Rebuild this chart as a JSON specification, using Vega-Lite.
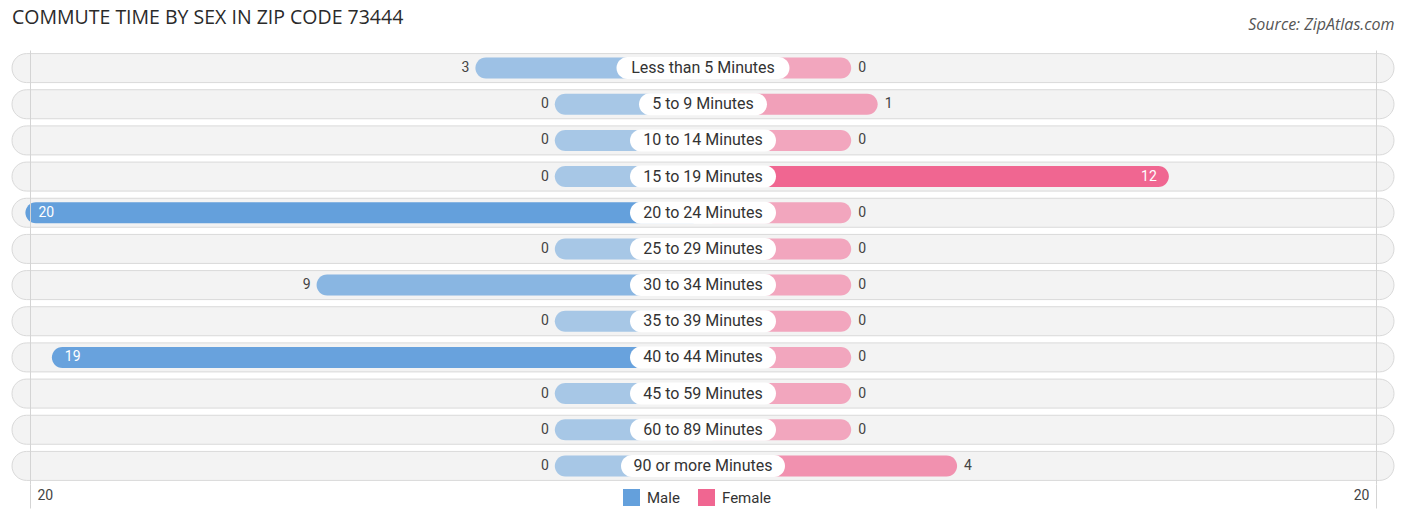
{
  "$schema": "https://vega.github.io/schema/vega-lite/v6.json",
  "width": 1382,
  "height": 434,
  "autosize": "none",
  "padding": {"left": 12, "top": 50, "right": 12, "bottom": 39},
  "background": "white",
  "title": {
    "text": "COMMUTE TIME BY SEX IN ZIP CODE 73444",
    "anchor": "start",
    "frame": "group",
    "font": "Open Sans",
    "fontSize": 19.5,
    "fontWeight": "normal",
    "color": "#2a2a2a",
    "baseline": "alphabetic",
    "offset": -27
  },
  "data": {
    "values": [
      {"cat": "Less than 5 Minutes", "male": 3, "female": 0},
      {"cat": "5 to 9 Minutes", "male": 0, "female": 1},
      {"cat": "10 to 14 Minutes", "male": 0, "female": 0},
      {"cat": "15 to 19 Minutes", "male": 0, "female": 12},
      {"cat": "20 to 24 Minutes", "male": 20, "female": 0},
      {"cat": "25 to 29 Minutes", "male": 0, "female": 0},
      {"cat": "30 to 34 Minutes", "male": 9, "female": 0},
      {"cat": "35 to 39 Minutes", "male": 0, "female": 0},
      {"cat": "40 to 44 Minutes", "male": 19, "female": 0},
      {"cat": "45 to 59 Minutes", "male": 0, "female": 0},
      {"cat": "60 to 89 Minutes", "male": 0, "female": 0},
      {"cat": "90 or more Minutes", "male": 0, "female": 4}
    ]
  },
  "encoding": {
    "y": {
      "field": "cat",
      "type": "nominal",
      "axis": null,
      "sort": null,
      "scale": {
        "domain": ["Less than 5 Minutes", "5 to 9 Minutes", "10 to 14 Minutes", "15 to 19 Minutes", "20 to 24 Minutes", "25 to 29 Minutes", "30 to 34 Minutes", "35 to 39 Minutes", "40 to 44 Minutes", "45 to 59 Minutes", "60 to 89 Minutes", "90 or more Minutes"],
        "paddingInner": 0,
        "paddingOuter": 0
      }
    }
  },
  "layer": [
    {
      "mark": {"type": "bar", "height": 29, "cornerRadius": 14.5, "fill": "#f3f3f3", "stroke": "#d9d9d9", "strokeWidth": 1},
      "encoding": {
        "x": {
          "datum": -20.535,
          "type": "quantitative",
          "scale": {"domain": [-20.535, 20.535], "nice": false, "zero": false},
          "axis": {
            "orient": "bottom",
            "values": [-20, 20],
            "title": null,
            "domain": false,
            "grid": true,
            "gridColor": "#d4d4d4",
            "ticks": true,
            "tickSize": 24,
            "tickColor": "#d4d4d4",
            "labelExpr": "abs(datum.value)",
            "labelFlush": false,
            "labelAlign": {"condition": {"test": "datum.value < 0", "value": "left"}, "value": "right"},
            "labelOffset": {"condition": {"test": "datum.value < 0", "value": 7}, "value": -7},
            "labelPadding": -20,
            "labelFontSize": 14,
            "labelColor": "#444",
            "zindex": 1
          }
        },
        "x2": {"datum": 20.535}
      }
    },
    {
      "layer": [
        {
          "mark": {"type": "bar", "height": 21, "cornerRadius": 10.5},
          "encoding": {
            "x": {
              "field": "male",
              "type": "quantitative",
              "scale": {"domain": [-31.704, 20.506], "reverse": true, "nice": false, "zero": false},
              "axis": null
            },
            "x2": {"datum": -5.599},
            "color": {
              "datum": "Male",
              "scale": {"domain": ["Male", "Female"], "range": ["#64a0dc", "#f06691"]},
              "legend": {
                "orient": "none",
                "legendX": 611,
                "legendY": 439,
                "direction": "horizontal",
                "title": null,
                "symbolType": "square",
                "symbolSize": 289,
                "symbolOpacity": 1,
                "symbolStrokeWidth": 0,
                "labelFontSize": 15,
                "labelColor": "#333",
                "labelOffset": 7,
                "columnPadding": 18
              }
            },
            "opacity": {
              "field": "male",
              "type": "quantitative",
              "scale": {"domain": [0, 20], "range": [0.53, 1]},
              "legend": null
            }
          }
        },
        {
          "transform": [{"filter": "datum.male < 10"}],
          "mark": {"type": "text", "fontSize": 14, "color": "#444", "align": "right", "baseline": "middle", "dx": -6},
          "encoding": {
            "x": {"field": "male", "type": "quantitative"},
            "text": {"field": "male"}
          }
        },
        {
          "transform": [{"filter": "datum.male >= 10"}],
          "mark": {"type": "text", "fontSize": 14, "color": "white", "align": "left", "baseline": "middle", "dx": 13},
          "encoding": {
            "x": {"field": "male", "type": "quantitative"},
            "text": {"field": "male"}
          }
        }
      ]
    },
    {
      "layer": [
        {
          "mark": {"type": "bar", "height": 21, "cornerRadius": 10.5},
          "encoding": {
            "x": {
              "field": "female",
              "type": "quantitative",
              "scale": {"domain": [-31.704, 20.506], "nice": false, "zero": false},
              "axis": {
                "orient": "top",
                "title": "Source: ZipAtlas.com",
                "titleAnchor": "end",
                "titleFont": "Open Sans",
                "titleFontStyle": "italic",
                "titleFontWeight": "normal",
                "titleFontSize": 16,
                "titleColor": "#555",
                "titlePadding": 18,
                "labels": false,
                "ticks": false,
                "domain": false,
                "grid": false
              }
            },
            "x2": {"datum": -5.599},
            "color": {"datum": "Female"},
            "opacity": {
              "field": "female",
              "type": "quantitative",
              "scale": {"domain": [0, 12], "range": [0.55, 1]},
              "legend": null
            }
          }
        },
        {
          "transform": [{"filter": "datum.female < 10"}],
          "mark": {"type": "text", "fontSize": 14, "color": "#444", "align": "left", "baseline": "middle", "dx": 7},
          "encoding": {
            "x": {"field": "female", "type": "quantitative"},
            "text": {"field": "female"}
          }
        },
        {
          "transform": [{"filter": "datum.female >= 10"}],
          "mark": {"type": "text", "fontSize": 14, "color": "white", "align": "right", "baseline": "middle", "dx": -12},
          "encoding": {
            "x": {"field": "female", "type": "quantitative"},
            "text": {"field": "female"}
          }
        }
      ]
    },
    {
      "layer": [
        {
          "transform": [
            {"calculate": "-(4.5 * length(datum.cat) + 1) / 33.65", "as": "lo"},
            {"calculate": "(4.5 * length(datum.cat) + 1) / 33.65", "as": "hi"}
          ],
          "mark": {"type": "bar", "height": 22, "cornerRadius": 11, "fill": "white"},
          "encoding": {
            "x": {
              "field": "lo",
              "type": "quantitative",
              "scale": {"domain": [-20.535, 20.535], "nice": false, "zero": false},
              "axis": null
            },
            "x2": {"field": "hi"}
          }
        },
        {
          "mark": {"type": "text", "fontSize": 16, "color": "#333", "align": "center", "baseline": "middle"},
          "encoding": {
            "x": {"datum": 0, "type": "quantitative"},
            "text": {"field": "cat"}
          }
        }
      ]
    }
  ],
  "resolve": {"scale": {"x": "independent", "opacity": "independent"}},
  "config": {
    "view": {"stroke": null},
    "font": "Roboto"
  }
}
